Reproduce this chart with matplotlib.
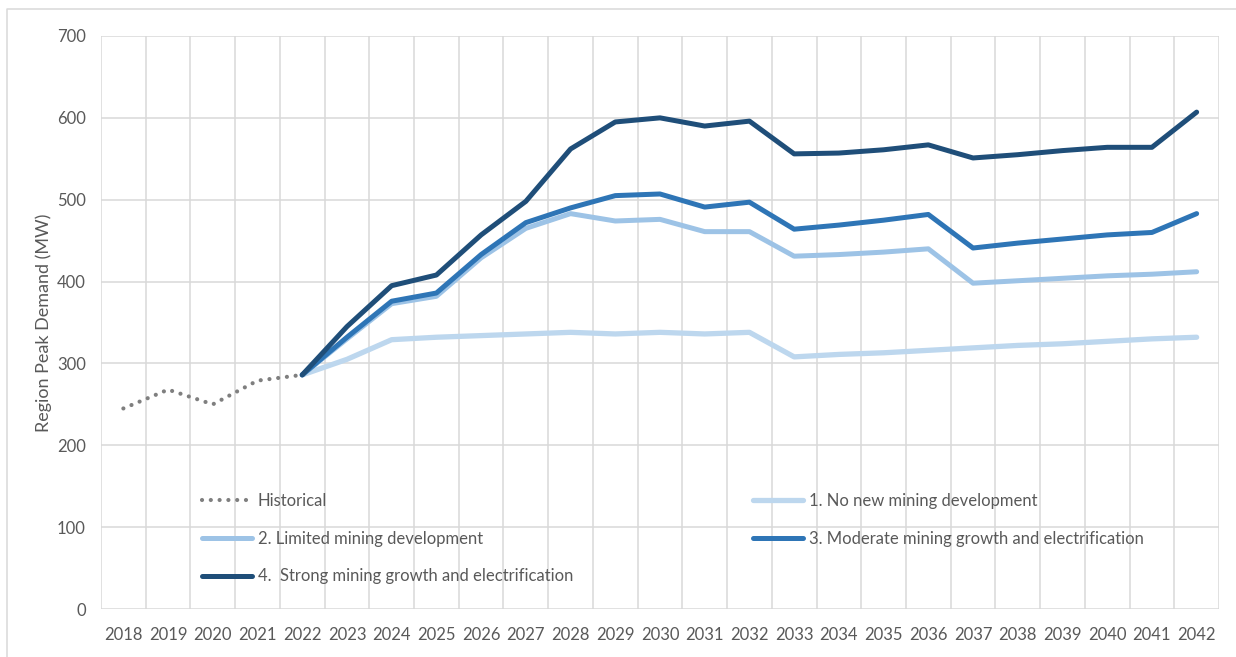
import numpy as np
import matplotlib
matplotlib.use('Agg')
import matplotlib.pyplot as plt
from matplotlib.lines import Line2D

plt.rcParams['font.family'] = ['Lato', 'DejaVu Sans']

years = list(range(2018, 2043))
hist_years = years[:5]
scen_years = years[4:]

historical = [245, 268, 250, 279, 286]
no_new = [286, 305, 329, 332, 334, 336, 338, 336, 338, 336, 338, 308, 311, 313, 316, 319, 322, 324, 327, 330, 332]
limited = [286, 330, 373, 382, 429, 465, 483, 474, 476, 461, 461, 431, 433, 436, 440, 398, 401, 404, 407, 409, 412]
moderate = [286, 332, 376, 386, 433, 472, 490, 505, 507, 491, 497, 464, 469, 475, 482, 441, 447, 452, 457, 460, 483]
strong = [286, 345, 395, 408, 457, 498, 562, 595, 600, 590, 596, 556, 557, 561, 567, 551, 555, 560, 564, 564, 607]

labels = ['Historical', '1. No new mining development', '2. Limited mining development',
          '3. Moderate mining growth and electrification', '4.  Strong mining growth and electrification']
colors = ['#7f7f7f', '#bdd7ee', '#9dc3e6', '#2e75b6', '#1f4e79']
styles = [(0, (0.01, 2.1)), '-', '-', '-', '-']
widths = [3.0, 3.8, 3.6, 3.6, 3.6]

W, H = 1236, 657
fig = plt.figure(figsize=(W / 100, H / 100), dpi=100)
ax = fig.add_axes([101 / W, 1 - 609 / H, (1219 - 101) / W, (609 - 36) / H])

xh = [years.index(y) for y in hist_years]
xs = [years.index(y) for y in scen_years]

series = [(xh, historical), (xs, no_new), (xs, limited), (xs, moderate), (xs, strong)]
for i, (x, y) in enumerate(series):
    ax.plot(x, y, color=colors[i], lw=widths[i], linestyle=styles[i],
            dash_capstyle='round', solid_capstyle='round', zorder=3 + i)

ax.set_xlim(-0.5, len(years) - 0.5)
ax.set_ylim(0, 700)
ax.set_xticks(range(len(years)))
ax.set_xticklabels([str(y) for y in years])
ax.set_yticks(range(0, 701, 100))
ax.set_xticks(np.arange(len(years) + 1) - 0.5, minor=True)
ax.grid(False)
ax.grid(True, which='minor', axis='x', color='#d9d9d9', lw=1.1)
ax.grid(True, which='major', axis='y', color='#d9d9d9', lw=1.1)
for s in ax.spines.values():
    s.set_visible(False)
ax.tick_params(which='both', length=0)
ax.tick_params(axis='x', pad=13, labelsize=12, labelcolor='#595959')
ax.tick_params(axis='y', pad=11, labelsize=12, labelcolor='#595959')

fig.text(44 / W, 1 - 323 / H, 'Region Peak Demand (MW)', rotation=90, ha='center', va='center',
         fontsize=13, color='#595959')

# legend in two columns, placed by hand
def make_leg(idx, x, y):
    handles = [Line2D([], [], color=colors[i], lw=widths[i], linestyle=styles[i],
                      dash_capstyle='round', solid_capstyle='round') for i in idx]
    leg = fig.legend(handles, [labels[i] for i in idx],
                     loc='upper left', bbox_to_anchor=(x / W, 1 - y / H),
                     frameon=False, fontsize=12, handlelength=3.0, handletextpad=0.35,
                     labelspacing=1.3, borderpad=0, borderaxespad=0, labelcolor='#595959')
    return leg

make_leg([0, 2, 4], 202, 493)
make_leg([1, 3], 753, 493)

# chart frame
fig.add_artist(Line2D([7 / W, 7 / W, 1], [0, 1 - 9 / H, 1 - 9 / H], transform=fig.transFigure,
                      color='#d9d9d9', lw=1.1))

fig.savefig('out.png', dpi=100)
